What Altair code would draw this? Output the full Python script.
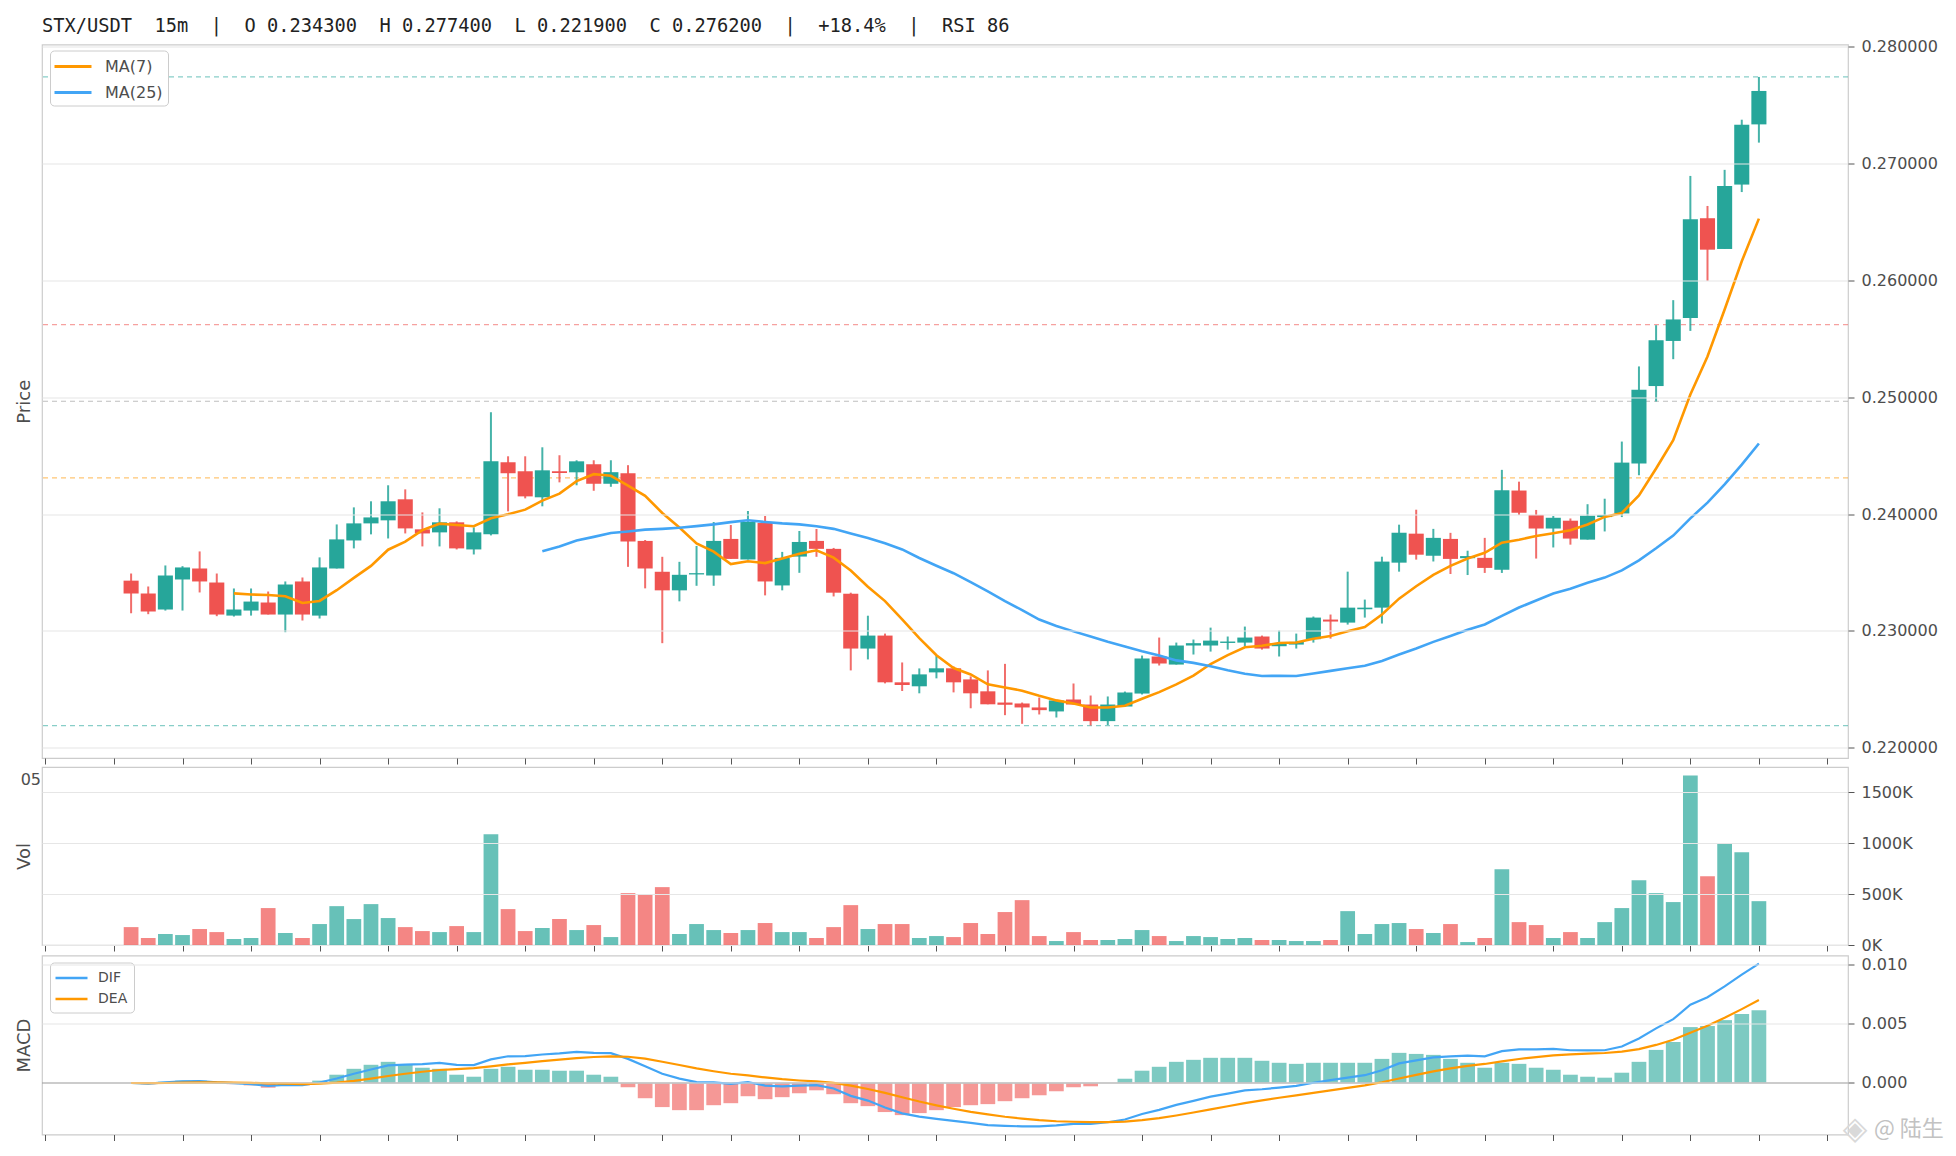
import altair as alt
import pandas as pd

TITLE_TEXT = "STX/USDT  15m  |  O 0.234300  H 0.277400  L 0.221900  C 0.276200  |  +18.4%  |  RSI 86"

opens = [0.2343, 0.2332, 0.23183, 0.2344, 0.23534, 0.23414, 0.23131, 0.23174, 0.23243, 0.2314,
         0.23423, 0.23131, 0.23534, 0.23774, 0.2392, 0.23946, 0.24126, 0.23869, 0.23843, 0.23929,
         0.23697, 0.23826, 0.24443, 0.24366, 0.24143, 0.24366, 0.24357, 0.24426, 0.24259, 0.24349,
         0.2377, 0.23506, 0.23347, 0.23483, 0.23474, 0.23787, 0.23611, 0.23923, 0.23389, 0.23636,
         0.2377, 0.23702, 0.23318, 0.22849, 0.2296, 0.2256, 0.22526, 0.22645, 0.2268, 0.22585,
         0.22483, 0.22387, 0.22379, 0.22345, 0.22311, 0.22413, 0.2237, 0.22228, 0.22353, 0.22464,
         0.22781, 0.22712, 0.22875, 0.22875, 0.22897, 0.229, 0.22952, 0.22869, 0.22883, 0.22929,
         0.23097, 0.23071, 0.23185, 0.23199, 0.23584, 0.23832, 0.23643, 0.23787, 0.23622, 0.23625,
         0.23524, 0.24201, 0.23992, 0.23876, 0.23943, 0.23781, 0.23974, 0.24005, 0.24433, 0.25095,
         0.25481, 0.25677, 0.26531, 0.26268, 0.26819, 0.27334]

highs = [0.23491, 0.2338, 0.2356, 0.23554, 0.2368, 0.23491, 0.23363, 0.23363, 0.23337, 0.23423,
         0.23457, 0.23629, 0.23911, 0.24057, 0.24109, 0.24246, 0.24211, 0.24014, 0.24049, 0.23937,
         0.23886, 0.24871, 0.24494, 0.24494, 0.24571, 0.24503, 0.2446, 0.2446, 0.2446, 0.24418,
         0.23778, 0.23634, 0.23591, 0.23727, 0.23932, 0.23906, 0.24026, 0.23983, 0.23676, 0.23855,
         0.23872, 0.2371, 0.23327, 0.2313, 0.22977, 0.2273, 0.22679, 0.2279, 0.22696, 0.22611,
         0.22662, 0.22718, 0.22387, 0.2243, 0.22405, 0.2255, 0.22447, 0.22439, 0.22481, 0.22789,
         0.22943, 0.229, 0.22926, 0.23028, 0.22952, 0.23037, 0.2296, 0.23003, 0.22977, 0.23123,
         0.2314, 0.23507, 0.23268, 0.23635, 0.23909, 0.24037, 0.23873, 0.23839, 0.23686, 0.23796,
         0.24378, 0.24277, 0.24035, 0.23983, 0.23962, 0.24084, 0.24131, 0.2462, 0.25263, 0.25616,
         0.2583, 0.26893, 0.26636, 0.26945, 0.27374, 0.2774]

lows = [0.23151, 0.23143, 0.23174, 0.23174, 0.23329, 0.23126, 0.23123, 0.23131, 0.2314, 0.22989,
        0.23089, 0.23106, 0.23534, 0.23706, 0.23826, 0.23791, 0.23834, 0.23723, 0.23723, 0.23697,
        0.23654, 0.23817, 0.24023, 0.24134, 0.24066, 0.24271, 0.24246, 0.24199, 0.24233, 0.23548,
        0.23364, 0.22895, 0.23253, 0.23386, 0.23386, 0.23616, 0.23611, 0.23304, 0.23347, 0.23497,
        0.23634, 0.23295, 0.22662, 0.22756, 0.22551, 0.22486, 0.22466, 0.22594, 0.22474, 0.22338,
        0.22372, 0.22279, 0.22205, 0.22285, 0.22259, 0.2237, 0.2219, 0.22195, 0.22353, 0.22456,
        0.22704, 0.22712, 0.22798, 0.22823, 0.2284, 0.22866, 0.2284, 0.22781, 0.22849, 0.229,
        0.22934, 0.23054, 0.23114, 0.23063, 0.23507, 0.2361, 0.23594, 0.23487, 0.23478, 0.23496,
        0.23496, 0.23992, 0.23619, 0.23714, 0.23738, 0.23781, 0.23851, 0.23974, 0.24332, 0.24963,
        0.25325, 0.25567, 0.25995, 0.26268, 0.26755, 0.27178]

closes = [0.2332, 0.23166, 0.23474, 0.23543, 0.23423, 0.2314, 0.23183, 0.23251, 0.2314, 0.23397,
          0.2314, 0.23543, 0.23783, 0.2392, 0.23971, 0.24109, 0.23877, 0.23834, 0.23929, 0.23706,
          0.23843, 0.24451, 0.24349, 0.24151, 0.24374, 0.24351, 0.24451, 0.24259, 0.24358, 0.23764,
          0.23534, 0.23347, 0.2348, 0.23494, 0.2377, 0.23616, 0.23932, 0.23423, 0.23625, 0.23761,
          0.23702, 0.23327, 0.22849, 0.2296, 0.2256, 0.22537, 0.22628, 0.2268, 0.2256, 0.22466,
          0.22372, 0.22368, 0.22345, 0.22322, 0.22405, 0.2237, 0.22228, 0.2237, 0.22473, 0.22764,
          0.22721, 0.22875, 0.22895, 0.22917, 0.22909, 0.22943, 0.22849, 0.22889, 0.22906, 0.23114,
          0.2308, 0.23199, 0.23199, 0.23593, 0.2384, 0.23652, 0.23796, 0.23616, 0.2364, 0.23539,
          0.24204, 0.24011, 0.23876, 0.23968, 0.2379, 0.23986, 0.23992, 0.2444, 0.25064, 0.25487,
          0.25665, 0.26522, 0.26262, 0.26807, 0.27331, 0.2762]

volumes = [176000, 69000, 108000, 98000, 157000, 127000, 59000, 69000, 363000, 118000,
           69000, 206000, 382000, 255000, 402000, 265000, 176000, 137000, 127000, 186000,
           127000, 1088000, 353000, 137000, 167000, 255000, 147000, 196000, 78000, 510000,
           497000, 569000, 108000, 206000, 147000, 118000, 147000, 216000, 127000, 127000,
           69000, 176000, 392000, 157000, 206000, 206000, 69000, 88000, 78000, 216000,
           108000, 324000, 441000, 88000, 39000, 127000, 49000, 49000, 59000, 147000,
           88000, 39000, 88000, 78000, 59000, 69000, 49000, 49000, 39000, 39000,
           49000, 333000, 108000, 206000, 216000, 157000, 118000, 206000, 29000, 69000,
           745000, 225000, 196000, 69000, 127000, 69000, 225000, 363000, 637000, 510000,
           422000, 1667000, 676000, 994000, 912000, 431000]

macd_hist = [0.0, -0.0001, 0.0001, 0.0002, 0.0002, 0.0, -0.0001, -0.0002, -0.0004, -0.0002,
             -0.0002, 0.0002, 0.0007, 0.0012, 0.00154, 0.00179, 0.00154, 0.00129, 0.0012, 0.0007,
             0.00053, 0.0012, 0.00137, 0.00112, 0.00112, 0.00104, 0.00104, 0.0007, 0.00053, -0.00036,
             -0.00129, -0.00204, -0.0023, -0.0023, -0.00188, -0.00171, -0.00112, -0.00137, -0.0012, -0.00087,
             -0.00062, -0.00095, -0.00171, -0.00196, -0.00246, -0.00272, -0.00255, -0.0023, -0.00204, -0.00188,
             -0.00179, -0.00154, -0.00129, -0.00104, -0.0007, -0.00036, -0.00028, 0.0, 0.00036, 0.00104,
             0.00137, 0.00179, 0.00196, 0.00213, 0.00213, 0.00213, 0.00188, 0.00171, 0.00162, 0.00171,
             0.00171, 0.00171, 0.00171, 0.00204, 0.00255, 0.00246, 0.00238, 0.00204, 0.00171, 0.00129,
             0.00171, 0.00162, 0.00129, 0.00112, 0.0007, 0.00053, 0.00045, 0.00087, 0.00179, 0.0028,
             0.00347, 0.00473, 0.00482, 0.00532, 0.00583, 0.00616]

dea_values = [0.00000, -0.00001, 0.00000, 0.00003, 0.00005, 0.00005, 0.00004, 0.00001, -0.00004, -0.00006,
              -0.00009, -0.00006, 0.00003, 0.00018, 0.00037, 0.00059, 0.00078, 0.00095, 0.00110, 0.00118,
              0.00125, 0.00140, 0.00157, 0.00171, 0.00185, 0.00198, 0.00211, 0.00220, 0.00226, 0.00222,
              0.00206, 0.00180, 0.00152, 0.00123, 0.00099, 0.00078, 0.00064, 0.00047, 0.00032, 0.00021,
              0.00013, 0.00001, -0.00023, -0.00051, -0.00084, -0.00121, -0.00157, -0.00189, -0.00218, -0.00244,
              -0.00266, -0.00286, -0.00302, -0.00315, -0.00324, -0.00328, -0.00332, -0.00332, -0.00327, -0.00314,
              -0.00297, -0.00275, -0.00250, -0.00223, -0.00197, -0.00170, -0.00147, -0.00125, -0.00105, -0.00084,
              -0.00062, -0.00041, -0.00020, 0.00006, 0.00038, 0.00069, 0.00098, 0.00124, 0.00145, 0.00161,
              0.00183, 0.00203, 0.00219, 0.00233, 0.00242, 0.00249, 0.00254, 0.00265, 0.00287, 0.00322,
              0.00366, 0.00425, 0.00485, 0.00552, 0.00625, 0.00702]

dif_values = [0.00000, -0.00006, 0.00005, 0.00013, 0.00015, 0.00005, -0.00001, -0.00009, -0.00024, -0.00016,
              -0.00019, 0.00004, 0.00038, 0.00078, 0.00114, 0.00149, 0.00155, 0.00160, 0.00170, 0.00153,
              0.00152, 0.00200, 0.00226, 0.00227, 0.00241, 0.00250, 0.00263, 0.00255, 0.00253, 0.00204,
              0.00141, 0.00078, 0.00037, 0.00008, 0.00005, -0.00008, 0.00008, -0.00022, -0.00028, -0.00023,
              -0.00018, -0.00047, -0.00109, -0.00149, -0.00207, -0.00257, -0.00285, -0.00304, -0.00320, -0.00338,
              -0.00356, -0.00363, -0.00367, -0.00367, -0.00359, -0.00346, -0.00346, -0.00332, -0.00309, -0.00262,
              -0.00228, -0.00185, -0.00152, -0.00116, -0.00090, -0.00063, -0.00053, -0.00039, -0.00024, 0.00002,
              0.00024, 0.00045, 0.00066, 0.00108, 0.00166, 0.00192, 0.00217, 0.00226, 0.00231, 0.00226,
              0.00269, 0.00284, 0.00284, 0.00289, 0.00277, 0.00276, 0.00277, 0.00309, 0.00377, 0.00462,
              0.00540, 0.00662, 0.00726, 0.00818, 0.00917, 0.01010]

fib_levels = [0.2774, 0.2562, 0.24965, 0.2431, 0.2219]
fib_colors = ["#26A69A", "#EF5350", "#888888", "#FF9800", "#26A69A"]

x_ticks = list(range(-5, 100, 4))
price_ticks = [0.22, 0.23, 0.24, 0.25, 0.26, 0.27, 0.28]
vol_ticks = [0, 500000, 1000000, 1500000]
macd_ticks = [0.0, 0.005, 0.01]

ma_names = ["MA(7)", "MA(25)"]
ma_colors = ["#FF9800", "#42A5F5"]
macd_names = ["DIF", "DEA"]
macd_colors = ["#42A5F5", "#FF9800"]

UP = "#26A69A"
DOWN = "#EF5350"
W = 1806
HP = 713.5
HV = 178
HM = 179
XDOM = [-5.2, 100.2]
LABEL_COLOR = "#4d4d4d"
LINE_SYMBOL = "M-2,0L2,0"

df = pd.DataFrame({
    "i": list(range(len(closes))),
    "open": opens, "high": highs, "low": lows, "close": closes,
    "vol": volumes, "hist": macd_hist, "dif": dif_values, "dea": dea_values,
})
fib_df = pd.DataFrame({"level": fib_levels, "col": fib_colors})

x_scale = alt.Scale(domain=XDOM, nice=False, zero=False)
x_axis = alt.Axis(values=x_ticks, labels=False, ticks=True, tickSize=6, grid=False,
                  domain=False, title=None, tickColor="#555555")


def xq(field):
    return alt.X(field, type="quantitative", scale=x_scale, axis=x_axis)


def side_axis(title, h, values, fmt=None, label_expr=None):
    kw = dict(orient="right", values=values, grid=True, tickSize=6, labelPadding=7,
              title=title, titleX=-(W + 18), titleY=h / 2, titleAngle=270,
              titleAlign="center", titleBaseline="middle", zindex=1)
    if fmt:
        kw["format"] = fmt
    if label_expr:
        kw["labelExpr"] = label_expr
    return alt.Axis(**kw)


up_cond = alt.condition("datum.close >= datum.open", alt.value(UP), alt.value(DOWN))

# ---------------- price panel ----------------
price_scale = alt.Scale(domain=[0.219125, 0.280175], nice=False, zero=False)
price_axis = side_axis("Price", HP, price_ticks, fmt=".6f")


def yp(field):
    return alt.Y(field, type="quantitative", scale=price_scale, axis=price_axis)


base = alt.Chart(df)

fib = alt.Chart(fib_df).mark_rule(strokeDash=[5, 4], strokeWidth=1.2, opacity=0.55).encode(
    y=yp("level"), stroke=alt.Stroke("col:N", scale=None)
)

wicks = base.mark_rule(strokeWidth=2, opacity=0.85).encode(
    x=xq("i"), y=yp("low"), y2="high", color=up_cond
)

bodies = base.transform_calculate(
    x0="datum.i - 0.44", x1="datum.i + 0.44",
    bb="min(datum.open, datum.close)",
    bt="max(max(datum.open, datum.close), min(datum.open, datum.close) + 0.0001)",
).mark_rect().encode(
    x=xq("x0"), x2="x1", y=yp("bb"), y2="bt", color=up_cond
)

ma_legend = alt.Legend(title=None, orient="none", legendX=8, legendY=6, symbolType=LINE_SYMBOL,
                       symbolSize=342, symbolStrokeWidth=3, symbolOffset=7, labelFontSize=16,
                       labelFont="DejaVu Sans", labelColor=LABEL_COLOR, strokeColor="#cccccc",
                       fillColor="white", padding=5, cornerRadius=4, rowPadding=7, labelOffset=21)

mas = base.transform_window(
    ma7="mean(close)", n7="count()", frame=[-6, 0], sort=[alt.SortField("i")]
).transform_window(
    ma25="mean(close)", n25="count()", frame=[-24, 0], sort=[alt.SortField("i")]
).transform_fold(
    ["ma7", "ma25"], as_=["key", "val"]
).transform_filter(
    "(datum.key == 'ma7' && datum.n7 >= 7) || (datum.key == 'ma25' && datum.n25 >= 25)"
).transform_calculate(
    series="datum.key == 'ma7' ? 'MA(7)' : 'MA(25)'"
).mark_line(strokeWidth=2.6).encode(
    x=xq("i"), y=yp("val"),
    color=alt.Color("series:N", scale=alt.Scale(domain=ma_names, range=ma_colors),
                    legend=ma_legend, sort=ma_names),
)

price = alt.layer(fib, wicks, bodies, mas).properties(width=W, height=HP)

# ---------------- volume panel ----------------
vol_scale = alt.Scale(domain=[0, 1750000], nice=False, zero=True)
vol_axis = side_axis("Vol", HV, vol_ticks, label_expr="(datum.value / 1000) + 'K'")

vol_bars = base.transform_calculate(
    x0="datum.i - 0.43", x1="datum.i + 0.43", zero="0"
).mark_rect(opacity=0.7).encode(
    x=xq("x0"), x2="x1",
    y=alt.Y("vol:Q", scale=vol_scale, axis=vol_axis), y2="zero:Q",
    color=up_cond,
)

cut_label = alt.Chart(pd.DataFrame({"t": ["05"]})).mark_text(
    align="right", baseline="middle", fontSize=16, font="DejaVu Sans", color=LABEL_COLOR
).encode(x=alt.value(-1), y=alt.value(13), text="t:N")

vol = alt.layer(vol_bars, cut_label).properties(width=W, height=HV)

# ---------------- MACD panel ----------------
macd_scale = alt.Scale(domain=[-0.00436, 0.01079], nice=False, zero=False)
macd_axis = side_axis("MACD", HM, macd_ticks, fmt=".3f")


def ym(field):
    return alt.Y(field, type="quantitative", scale=macd_scale, axis=macd_axis)


hist_bars = base.transform_calculate(
    x0="datum.i - 0.43", x1="datum.i + 0.43", zero="0"
).mark_rect(opacity=0.6).encode(
    x=xq("x0"), x2="x1", y=ym("hist"), y2="zero:Q",
    color=alt.condition("datum.hist >= 0", alt.value(UP), alt.value(DOWN)),
)

zero_line = alt.Chart(pd.DataFrame({"z": [0.0]})).mark_rule(color="#999999", strokeWidth=1.3).encode(
    y=ym("z")
)

macd_legend = alt.Legend(title=None, orient="none", legendX=8, legendY=7, symbolType=LINE_SYMBOL,
                         symbolSize=256, symbolStrokeWidth=2.5, symbolOffset=6, labelFontSize=14,
                         labelFont="DejaVu Sans", labelColor=LABEL_COLOR, strokeColor="#cccccc",
                         fillColor="white", padding=6, cornerRadius=4, rowPadding=4, labelOffset=17)

macd_lines = base.transform_fold(
    ["dif", "dea"], as_=["key", "val"]
).transform_calculate(
    series="datum.key == 'dif' ? 'DIF' : 'DEA'"
).mark_line(strokeWidth=2.2).encode(
    x=xq("i"), y=ym("val"),
    color=alt.Color("series:N", scale=alt.Scale(domain=macd_names, range=macd_colors),
                    legend=macd_legend, sort=macd_names),
)

wm_icon = alt.Chart(pd.DataFrame({"t": ["◈"]})).mark_text(
    align="center", baseline="middle", fontSize=32, font="DejaVu Sans", color="#d9d9d9"
).encode(x=alt.value(W + 7), y=alt.value(173), text="t:N")

wm_text = alt.Chart(pd.DataFrame({"t": ["@ 陆生"]})).mark_text(
    align="left", baseline="middle", fontSize=22, font="Noto Sans CJK SC", color="#c2c2c2"
).encode(x=alt.value(W + 26), y=alt.value(173), text="t:N")

macd = alt.layer(hist_bars, zero_line, macd_lines, wm_icon, wm_text).properties(width=W, height=HM)

chart = alt.vconcat(price, vol, macd, spacing=0.5).resolve_scale(
    color="independent", stroke="independent"
).resolve_legend(color="independent").properties(
    title=alt.TitleParams(TITLE_TEXT.replace("  ", "\u00a0\u00a0"), anchor="start", frame="group",
                          font="DejaVu Sans Mono", fontSize=18.7, fontWeight="normal",
                          color="#222222", offset=1.75),
    padding={"left": 6, "top": 8.5, "right": 0, "bottom": 2},
    background="white",
).configure_view(
    stroke="#cccccc", strokeWidth=1.2
).configure_axis(
    labelFont="DejaVu Sans", labelFontSize=16, labelColor=LABEL_COLOR,
    tickColor="#555555", gridColor="#e6e6e6", gridWidth=1.2,
    titleFont="DejaVu Sans", titleFontSize=18, titleColor=LABEL_COLOR,
    titleFontWeight="normal", domain=False,
)

chart.save("out.html", embed_options={"renderer": "svg", "actions": False})
